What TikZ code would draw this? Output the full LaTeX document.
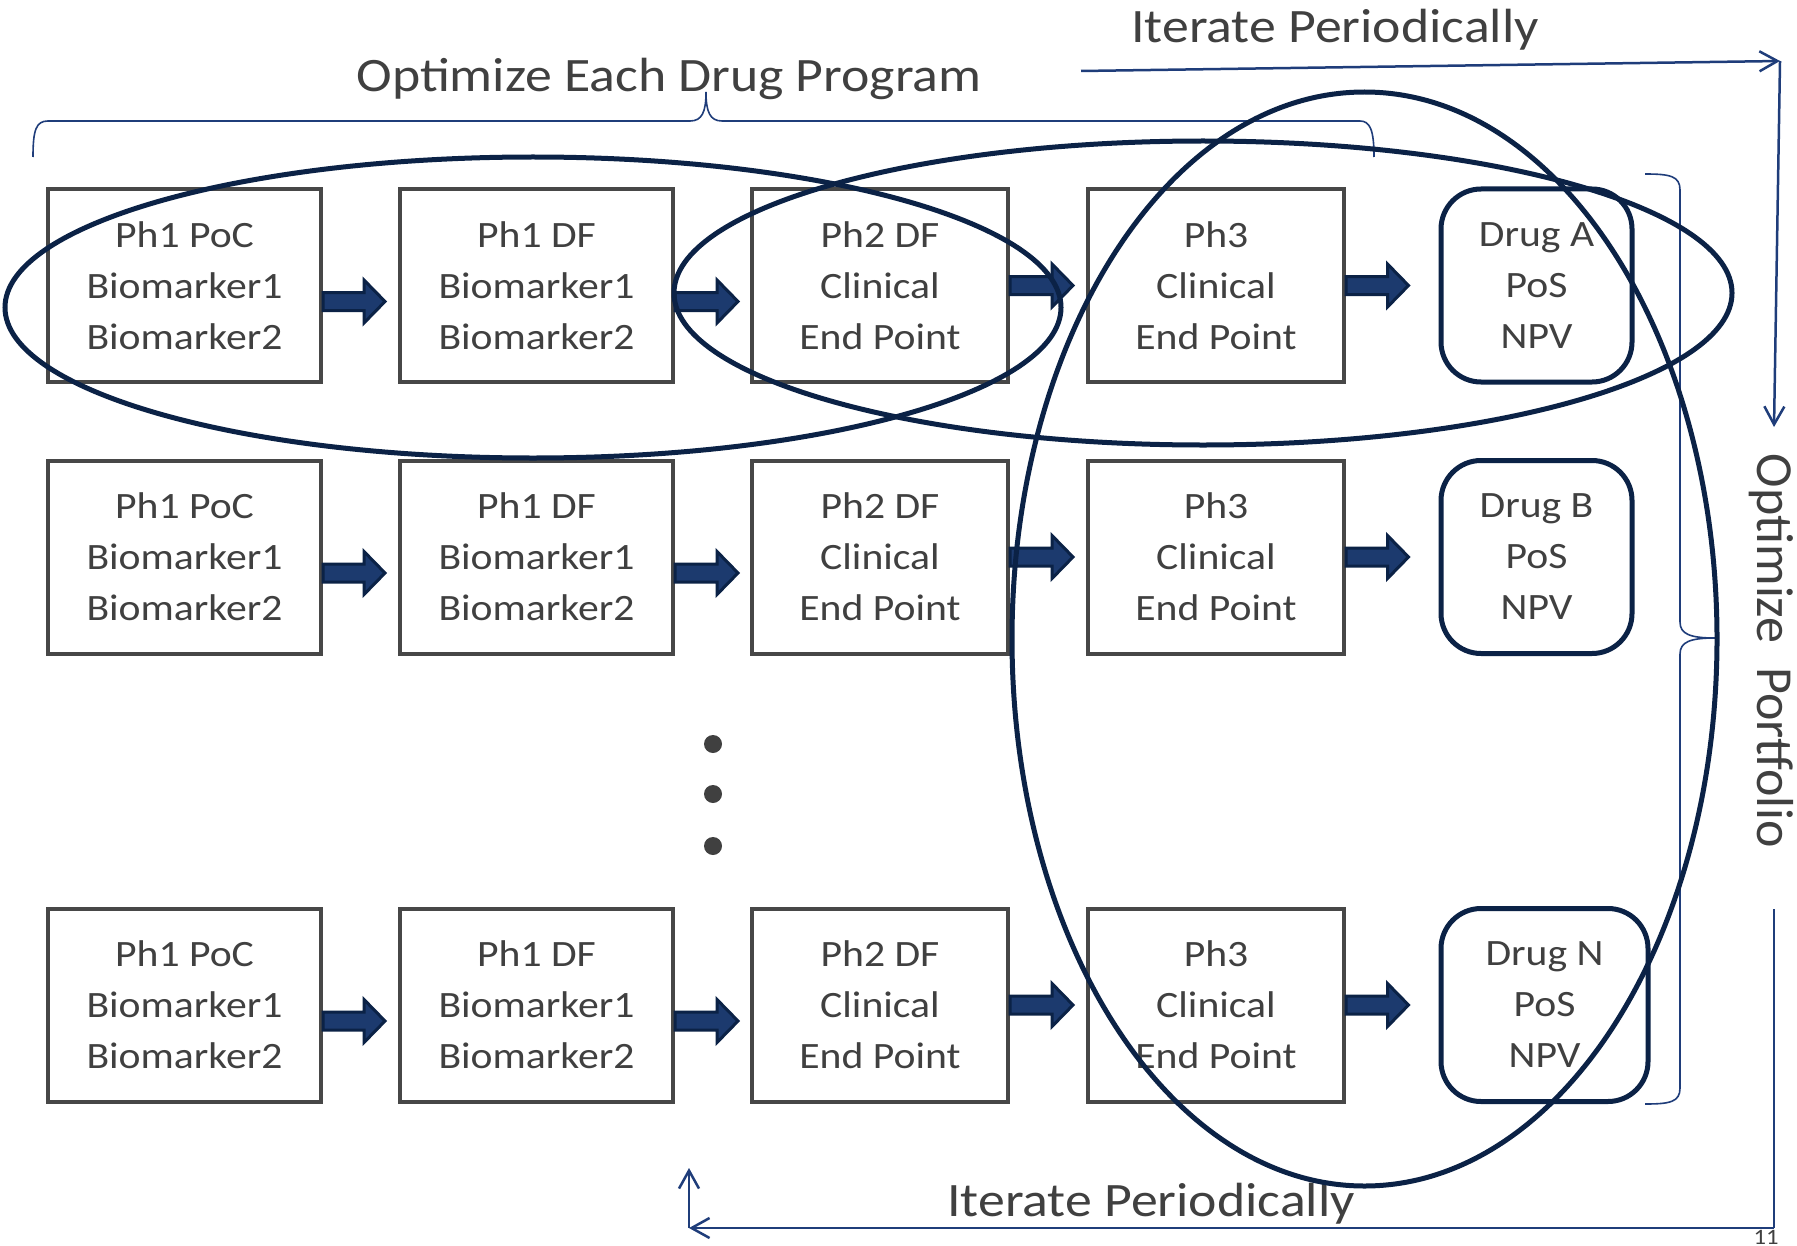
\documentclass[tikz,border=0pt]{standalone}
\usepackage{fontspec}
\setmainfont{Carlito}[FakeStretch=1.12]
\newfontfamily\rotfont{Carlito}
\usetikzlibrary{calc,arrows.meta}
\definecolor{txtgray}{HTML}{404040}
\definecolor{boxgray}{HTML}{474747}
\definecolor{navy}{HTML}{0B2246}
\definecolor{arrfill}{HTML}{1C3A6E}
\definecolor{linblue}{HTML}{1F3D7A}
\begin{document}
\begin{tikzpicture}[x=0.5pt,y=-0.5pt,
  stage/.style={draw=boxgray, line width=2pt, fill=white, minimum height=96.5pt,
    inner sep=0pt, align=center, text=txtgray,
    font=\fontsize{18.6pt}{25.5pt}\selectfont},
  drugbox/.style={stage, draw=navy, line width=2.5pt, rounded corners=20pt},
  blockarrow/.style={fill=arrfill, draw=navy, line width=1.5pt, line join=miter,
    to path={let \p1=(\tikztostart), \p2=(\tikztotarget) in
      (\x1,\y1+4.5pt) -- (\x2-10.5pt,\y1+4.5pt) -- (\x2-10.5pt,\y1+10.75pt) --
      (\x2,\y1) -- (\x2-10.5pt,\y1-10.75pt) -- (\x2-10.5pt,\y1-4.5pt) --
      (\x1,\y1-4.5pt) -- cycle}},
  ring/.style={draw=navy, line width=2.5pt},
  itline/.style={draw=linblue, line width=1.25pt},
  bracel/.style={draw=linblue, line width=0.8pt},
  itip/.style={-{Straight Barb[length=9pt,width=10pt]}},
  head/.style={text=txtgray, inner sep=0pt, font=\fontsize{24pt}{29pt}\selectfont},
  rothead/.style={text=txtgray, inner sep=0pt, font=\rotfont\fontsize{26pt}{31pt}\selectfont},
  dotn/.style={circle, fill=txtgray, inner sep=0pt, minimum size=9pt},
]
\fill[white] (0,0) rectangle (1797,1246);
\useasboundingbox (0,0) rectangle (1797,1246);

% row 1
\node[stage, minimum width=136.5pt] (p1) at (184.5,285.5) {Ph1 PoC\\Biomarker1\\Biomarker2};
\node[stage, minimum width=136.5pt] (d1) at (536.5,285.5) {Ph1 DF\\Biomarker1\\Biomarker2};
\node[stage, minimum width=128pt] (c1) at (880,285.5) {Ph2 DF\\Clinical\\End Point};
\node[stage, minimum width=128pt] (t1) at (1216,285.5) {Ph3\\Clinical\\End Point};
\node[drugbox, minimum width=95.5pt] (g1) at (1536.5,285.5) {Drug A\\PoS\\NPV};
% row 2
\node[stage, minimum width=136.5pt] (p2) at (184.5,557) {Ph1 PoC\\Biomarker1\\Biomarker2};
\node[stage, minimum width=136.5pt] (d2) at (536.5,557) {Ph1 DF\\Biomarker1\\Biomarker2};
\node[stage, minimum width=128pt] (c2) at (880,557) {Ph2 DF\\Clinical\\End Point};
\node[stage, minimum width=128pt] (t2) at (1216,557) {Ph3\\Clinical\\End Point};
\node[drugbox, minimum width=95.5pt] (g2) at (1536.5,557) {Drug B\\PoS\\NPV};
% row 3
\node[stage, minimum width=136.5pt] (p3) at (184.5,1005) {Ph1 PoC\\Biomarker1\\Biomarker2};
\node[stage, minimum width=136.5pt] (d3) at (536.5,1005) {Ph1 DF\\Biomarker1\\Biomarker2};
\node[stage, minimum width=128pt] (c3) at (880,1005) {Ph2 DF\\Clinical\\End Point};
\node[stage, minimum width=128pt] (t3) at (1216,1005) {Ph3\\Clinical\\End Point};
\node[drugbox, minimum width=103.5pt] (g3) at (1544.5,1005) {Drug N\\PoS\\NPV};

% block arrows
\foreach \r in {1,2,3}{
  \draw[blockarrow] ($(p\r.east)+(0,16)$) to ($(d\r.west)+(-13,16)$);
  \draw[blockarrow] ($(d\r.east)+(0,16)$) to ($(c\r.west)+(-12,16)$);
  \draw[blockarrow] (c\r.east) to ($(t\r.west)+(-13,0)$);
  \draw[blockarrow] (t\r.east) to ($(g\r.west)+(-30,0)$);
}

% dots
\node[dotn] (v1) at (713,744) {};
\node[dotn] (v2) at (713,794) {};
\node[dotn] (v3) at (713,846) {};

% labels
\node[head, anchor=base] (title) at (669,92) {Optimize Each Drug Program};
\node[head, anchor=base] (ittop) at (1335,43) {Iterate Periodically};
\node[head, anchor=base] (itbot) at (1151,1216) {Iterate Periodically};
\node[rothead, rotate=-90, anchor=base] (port) at (1757,651) {Optimize\hspace{12pt}Portfolio};
\node[text=txtgray, inner sep=0pt, anchor=base, font=\fontsize{11pt}{13pt}\selectfont] (pg) at (1766,1244) {11};

% top brace
\draw[bracel] (33,157) .. controls (33,130) and (36,121) .. (48,121) -- (690,121)
  .. controls (702,121) and (706,112) .. (706,92)
  .. controls (706,112) and (710,121) .. (722,121) -- (1360,121)
  .. controls (1370,121) and (1374,130) .. (1374,157);
% right brace
\draw[bracel] (1645,174) .. controls (1670,174) and (1680,176) .. (1680,190) -- (1680,622)
  .. controls (1680,634) and (1690,638) .. (1715,638)
  .. controls (1690,638) and (1680,642) .. (1680,654) -- (1680,1088)
  .. controls (1680,1102) and (1670,1104) .. (1645,1104);

% iterate arrows
\coordinate (tA) at (1081,71);
\coordinate (tB) at (1780,61);
\coordinate (tC) at (1774,427);
\coordinate (bA) at (1774,909);
\coordinate (bB) at (1774,1228);
\coordinate (bC) at (689,1228);
\coordinate (bD) at (689,1168);
\draw[itline, itip] (tA) -- (tB);
\draw[itline, itip] (tB) -- (tC);
\draw[itline] (bA) -- (bB);
\draw[itline, itip] (bB) -- (bC);
\draw[itline, itip] (bC) -- (bD);

% ellipses
\draw[ring] (533,307.5) ellipse [x radius=264pt, y radius=75.25pt];
\draw[ring] (1203,293) ellipse [x radius=264.5pt, y radius=76pt];
\draw[ring] (1364.5,639) ellipse [x radius=176.25pt, y radius=273.5pt];
\end{tikzpicture}
\end{document}
